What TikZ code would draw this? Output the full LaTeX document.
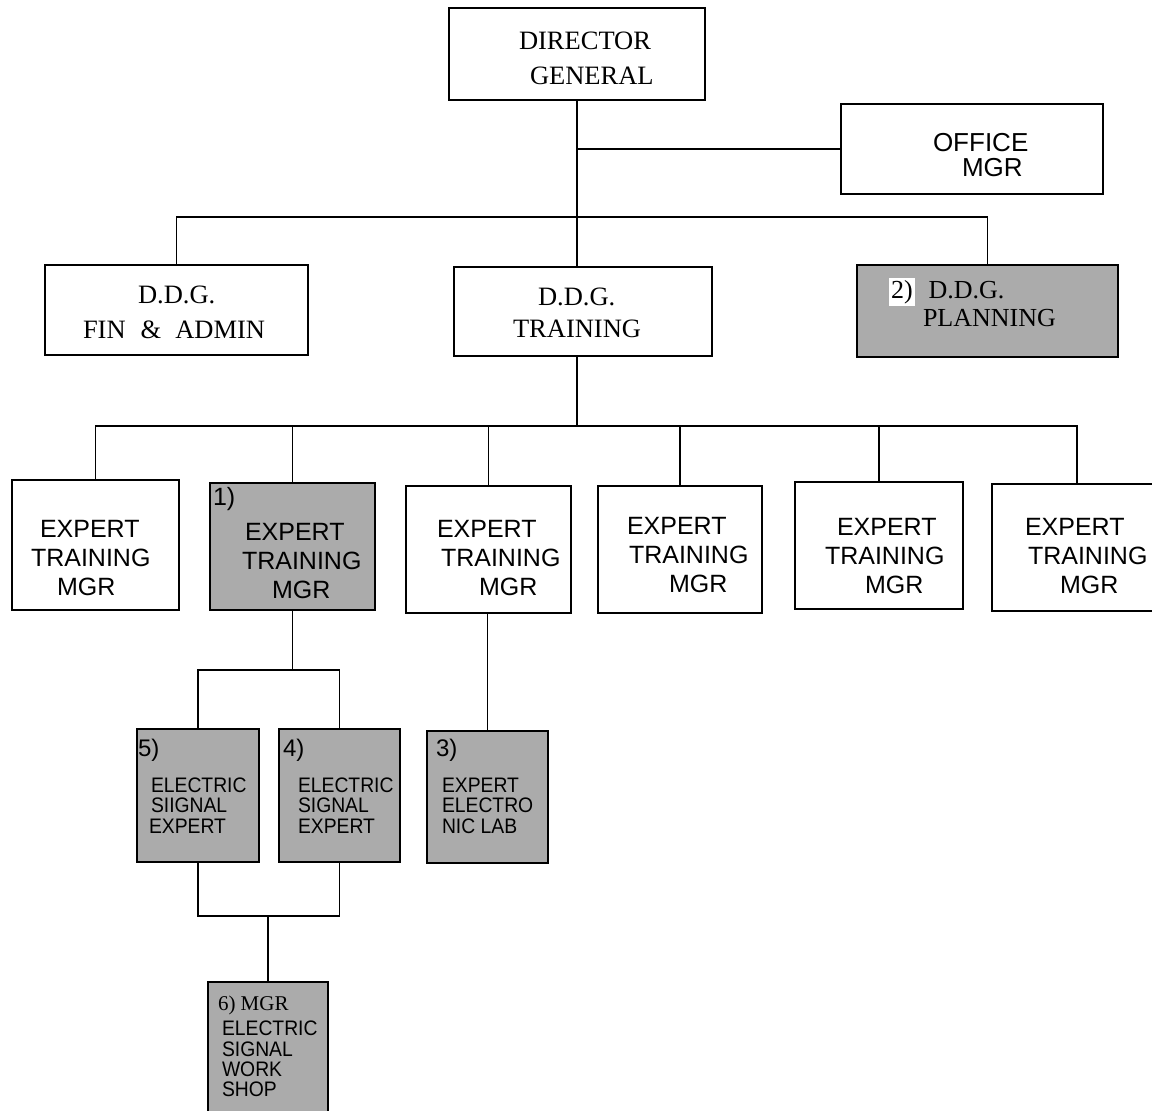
\documentclass[tikz,border=0pt]{standalone}
\usepackage{fontspec}
\setmainfont{Liberation Serif}
\setsansfont{Liberation Sans}
\newfontfamily\smallsf[FakeStretch=0.92]{Liberation Sans}
\newcommand{\numlab}[1]{{\sffamily\fontsize{24}{20.3}\selectfont #1}}
\begin{document}
\begin{tikzpicture}[x=1pt,y=-1pt,
  box/.style={draw=black, line width=1.6pt, inner sep=0pt, outer sep=0pt, anchor=north west},
  shadebox/.style={box, fill=black!33},
  conn/.style={draw=black, line width=1.6pt},
  sfbig/.style={inner sep=0pt, outer sep=0pt, anchor=north west, align=left, font=\sffamily\fontsize{25}{29}\selectfont},
  sfoffice/.style={inner sep=0pt, outer sep=0pt, anchor=north west, align=left, font=\sffamily\fontsize{26}{25}\selectfont},
  rmbig/.style={inner sep=0pt, outer sep=0pt, anchor=north west, align=left, font=\rmfamily\fontsize{26.5}{35}\selectfont},
  sfsmall/.style={inner sep=0pt, outer sep=0pt, anchor=north west, align=left, font=\smallsf\fontsize{21}{20.3}\selectfont}
]
\useasboundingbox (0,0) rectangle (1152,1111);
\fill[white] (0,0) rectangle (1152,1111);

% boxes
\node[box, minimum width=256, minimum height=92] (dg) at (449,8) {};
\node[box, minimum width=262, minimum height=90] (office) at (841,104) {};
\node[box, minimum width=263, minimum height=90] (fin) at (45,265) {};
\node[box, minimum width=258, minimum height=89] (ddgt) at (454,267) {};
\node[shadebox, minimum width=261, minimum height=92] (plan) at (857,265) {};
\node[box, minimum width=167, minimum height=130] (e1) at (12,480) {};
\node[shadebox, minimum width=165, minimum height=127] (e2) at (210,483) {};
\node[box, minimum width=165, minimum height=127] (e3) at (406,486) {};
\node[box, minimum width=164, minimum height=127] (e4) at (598,486) {};
\node[box, minimum width=168, minimum height=127] (e5) at (795,482) {};
\node[box, minimum width=170, minimum height=127] (e6) at (992,484) {};
\node[shadebox, minimum width=122, minimum height=133] (s5) at (137,729) {};
\node[shadebox, minimum width=121, minimum height=133] (s4) at (279,729) {};
\node[shadebox, minimum width=121, minimum height=132] (s3) at (427,731) {};
\node[shadebox, minimum width=120, minimum height=150] (s6) at (208,982) {};

% texts
\node[rmbig] (dgt) at (519,32) {DIRECTOR\\\hspace*{11pt}GENERAL};
\node[sfoffice] (officet) at (933,133) {OFFICE\\\hspace*{29pt}MGR};
\node[rmbig] (fint) at (83,286) {\hspace*{55pt}D.D.G.\\FIN\hspace{15pt}\&\hspace{14pt}ADMIN};
\node[rmbig, font=\rmfamily\fontsize{26.5}{32}\selectfont] (ddgtt) at (513,288) {\hspace*{25pt}D.D.G.\\TRAINING};
\node[rmbig, font=\rmfamily\fontsize{26}{28}\selectfont] (plant) at (889,278)
  {{\setlength{\fboxsep}{2pt}\colorbox{white}{2)}}\hspace{14pt}D.D.G.\\\hspace*{34pt}PLANNING};

\node[sfbig] (e1t) at (31,520) {\hspace*{9pt}EXPERT\\TRAINING\\\hspace*{26pt}MGR};
\node[sfbig] (e2t) at (213,487) {1)\\[6pt]\hspace*{32pt}EXPERT\\\hspace*{29pt}TRAINING\\\hspace*{59pt}MGR};
\node[sfbig] (e3t) at (437,520) {EXPERT\\\hspace*{4pt}TRAINING\\\hspace*{42pt}MGR};
\node[sfbig] (e4t) at (627,517) {EXPERT\\\hspace*{2pt}TRAINING\\\hspace*{42pt}MGR};
\node[sfbig] (e5t) at (825,518) {\hspace*{12pt}EXPERT\\TRAINING\\\hspace*{40pt}MGR};
\node[sfbig] (e6t) at (1025,518) {EXPERT\\\hspace*{3pt}TRAINING\\\hspace*{35pt}MGR};

\node[sfsmall] (s5t) at (138,739) {\numlab{5)}\\[16pt]\hspace*{13pt}ELECTRIC\\\hspace*{13pt}SIIGNAL\\\hspace*{11pt}EXPERT};
\node[sfsmall] (s4t) at (283,739) {\numlab{4)}\\[16pt]\hspace*{15pt}ELECTRIC\\\hspace*{15pt}SIGNAL\\\hspace*{15pt}EXPERT};
\node[sfsmall] (s3t) at (436,739) {\numlab{3)}\\[16pt]\hspace*{6pt}EXPERT\\\hspace*{6pt}ELECTRO\\\hspace*{6pt}NIC LAB};
\node[sfsmall] (s6t) at (218,996) {{\rmfamily\fontsize{21}{20.3}\selectfont 6) MGR}\\[5pt]\hspace*{4pt}ELECTRIC\\\hspace*{4pt}SIGNAL\\\hspace*{4pt}WORK\\\hspace*{4pt}SHOP};

% connectors
\coordinate (bus1) at (577,217);
\coordinate (bus2) at (577,426);
\coordinate (bus3) at (292.5,670);
\coordinate (bus4) at (268,916);
\draw[conn] (dg.south) -- (dg.south |- ddgt.north);
\draw[conn] (dg.south |- office.west) -- (office.west);
\draw[conn] (fin.north) |- (bus1) -| (plan.north);
\draw[conn] (dg.south |- ddgt.south) -- (bus2);
\draw[conn] (e1.north) |- (bus2) -| (e6.north);
\foreach \n in {e2,e3,e4,e5} \draw[conn] (\n.north) -- (\n.north |- bus2);
\draw[conn] (e2.south) -- (bus3);
\draw[conn] (s5.north) |- (bus3) -| (s4.north);
\draw[conn] (s3.north |- e3.south) -- (s3.north);
\draw[conn] (s5.south) |- (bus4) -| (s4.south);
\draw[conn] (bus4) -- (s6.north);
\end{tikzpicture}
\end{document}
